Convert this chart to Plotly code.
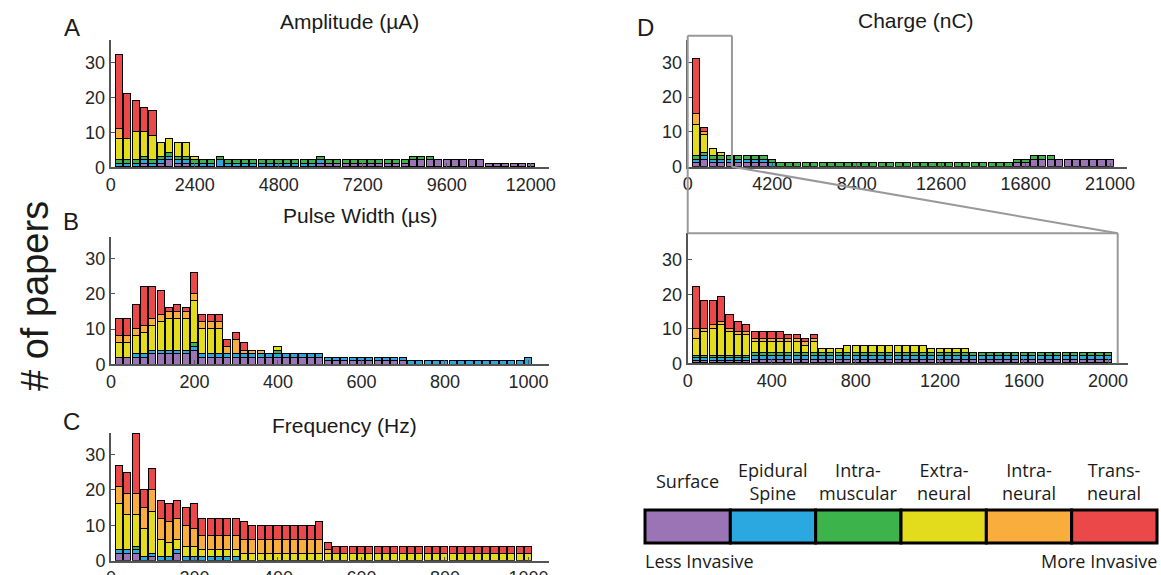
"""
Stimulation parameter histograms, stacked by electrode invasiveness.
"""
import plotly.graph_objects as go

W, H = 1161, 575

LAYERS = ["Surface", "Epidural<br>Spine", "Intra-<br>muscular", "Extra-<br>neural", "Intra-<br>neural", "Trans-<br>neural"]
COLORS = ["#9B74B5", "#2BA8E0", "#3CB44B", "#E2DC1C", "#F8AD3C", "#EA4849"]

# --- A: amplitude (uA), 240 uA bins ---
amp_bin = 240
amp_surface = [0, 0, 0, 1, 0, 1, 2, 1, 1, 0,  0, 0, 0, 0, 0, 0, 0, 0, 0, 0,  0, 0, 0, 0, 1, 1, 1, 1, 1, 1,
               1, 1, 1, 1, 1, 2, 2, 2, 2, 2,  2, 2, 2, 2, 1, 1, 1, 1, 1, 1]
amp_epidural = [1, 1, 1, 1, 1, 1, 1, 1, 1, 1,  1, 1, 2, 1, 1, 1, 1, 1, 1, 1,  1, 1, 1, 1, 1, 0, 0, 0, 0, 0,
                0, 0, 0, 0, 0, 0, 0, 0, 0, 0,  0, 0, 0, 0, 0, 0, 0, 0, 0, 0]
amp_intramusc = [1, 1, 1, 1, 1, 1, 1, 1, 1, 1,  1, 1, 1, 1, 1, 1, 1, 1, 1, 1,  1, 1, 1, 1, 1, 1, 1, 1, 1, 1,
                 1, 1, 1, 1, 1, 1, 1, 1, 0, 0,  0, 0, 0, 0, 0, 0, 0, 0, 0, 0]
amp_extra = [6, 6, 8, 7, 7, 4, 4, 4, 4, 1] + [0] * 40
amp_intra = [3] + [0] * 49
amp_trans = [21, 13, 9, 7, 7] + [0] * 45

# --- B: pulse width (us), 20 us bins ---
pw_bin = 20
pw_surface = [2, 2, 2, 2, 3, 3, 3, 3, 3, 4,  2, 2, 2, 2, 2, 2, 2, 2, 2, 2,  2, 2, 2, 2, 2, 1, 1, 1, 1, 1,
              1, 1, 1, 1, 1, 0, 0, 0, 0, 0,  0, 0, 0, 0, 0, 0, 0, 0, 0, 0]
pw_epidural = [0, 0, 1, 1, 1, 1, 1, 1, 1, 1] + [1] * 39 + [2]
pw_intramusc = [0] * 9 + [1] + [0] * 9 + [1] + [0] * 30
pw_extra = [4, 4, 5, 6, 7, 8, 9, 9, 9, 12,  7, 7, 7, 0, 0, 0, 0, 0, 0, 1] + [0] * 30
pw_intra = [2, 2, 2, 2, 2, 2, 2, 2, 2, 2,  2, 2, 2, 2, 4, 1, 1, 1, 0, 0] + [0] * 30
pw_trans = [5, 5, 7, 11, 9, 7, 1, 2, 1, 6,  2, 2, 2, 2, 2, 2, 0, 0, 0, 0] + [0] * 30

# --- C: frequency (Hz), 20 Hz bins ---
fq_bin = 20
fq_surface = [2, 2, 2, 0, 1, 0, 0, 2, 0, 0] + [0] * 40
fq_epidural = [1] * 15 + [0] * 35
fq_intramusc = [0, 0, 1] + [0] * 47
fq_extra = [13, 10, 9, 8, 12, 5, 4, 3, 3, 3] + [2] * 40
fq_intra = [5, 6, 6, 6, 6, 6, 6, 6, 6, 5,  4, 4, 4, 4, 4, 4, 4, 4, 4, 4,  4, 4, 4, 4, 4, 1, 0, 0, 0, 0] + [0] * 20
fq_trans = [6, 6, 17, 5, 6, 5, 5, 5, 5, 7,  5, 5, 5, 5, 5, 5, 4, 4, 4, 4,  4, 4, 4, 4, 5, 2, 2, 2, 2, 2] + [2] * 20

# --- D: charge (nC), full range with 420 nC bins ---
ch_bin = 420
ch_surface = [1, 2, 1, 1, 1, 1, 1, 1, 1, 0] + [0] * 28 + [1, 1] + [2] * 10
ch_epidural = [1] * 10 + [0] * 40
ch_intramusc = [1] * 43 + [0] * 7
ch_extra = [9, 5, 2, 1] + [0] * 46
ch_intra = [3, 1] + [0] * 48
ch_trans = [16, 1] + [0] * 48

# --- D (zoom): charge 0-2000 nC, 40 nC bins ---
cz_bin = 40
cz_surface = [0.7] * 7 + [1] * 43
cz_epidural = [0.7] * 7 + [1] * 43
cz_intramusc = [0.6] * 7 + [1] * 43
cz_extra = [5, 7, 8, 9, 7, 6, 6, 3, 3, 3,  3, 3, 3, 2, 3, 1, 1, 1, 2, 2,  2, 2, 2, 2, 2, 2, 2, 2, 1, 1,
            1, 1, 1, 0, 0, 0, 0, 0, 0, 0] + [0] * 10
cz_intra = [3, 1, 1, 1, 1, 1, 1, 1, 1, 1,  1, 1, 1, 1, 1] + [0] * 35
cz_trans = [12, 8, 7, 7, 4, 3, 2, 2, 2, 2,  2, 1, 1, 1, 1] + [0] * 35
ZOOM_END = 2200     # right edge of the zoom box on the full charge axis
ZOOM_AXIS_END = 2046  # right edge of the zoom panel frame

# panel geometry, in screen pixels of the reference
panels = [
    dict(title="Amplitude (µA)", letter="A", bin=amp_bin, bw=0.85,
         stacks=[amp_surface, amp_epidural, amp_intramusc, amp_extra, amp_intra, amp_trans],
         xdom=(110.7, 549), xr=12520, ydom=(40, 167.3), yr=36.4,
         xticks=[0, 2400, 4800, 7200, 9600, 12000], tpos=(349, 22), lpos=(72, 27)),
    dict(title="Pulse Width (µs)", letter="B", bin=pw_bin, bw=0.85,
         stacks=[pw_surface, pw_epidural, pw_intramusc, pw_extra, pw_intra, pw_trans],
         xdom=(111, 549.3), xr=1050, ydom=(236.7, 364.3), yr=36.25,
         xticks=[0, 200, 400, 600, 800, 1000], tpos=(360, 216), lpos=(71, 222)),
    dict(title="Frequency (Hz)", letter="C", bin=fq_bin, bw=0.85,
         stacks=[fq_surface, fq_epidural, fq_intramusc, fq_extra, fq_intra, fq_trans],
         xdom=(111, 549.3), xr=1050, ydom=(432.7, 560.7), yr=36.2,
         xticks=[0, 200, 400, 600, 800, 1000], tpos=(344, 425), lpos=(71, 421)),
    dict(title="Charge (nC)", letter="D", bin=ch_bin, bw=0.85,
         stacks=[ch_surface, ch_epidural, ch_intramusc, ch_extra, ch_intra, ch_trans],
         xdom=(687.7, 1127), xr=21840, ydom=(40, 166.7), yr=36.4,
         xticks=[0, 4200, 8400, 12600, 16800, 21000], tpos=(916, 21), lpos=(645, 27)),
    dict(title=None, letter=None, bin=cz_bin, bw=0.85,
         stacks=[cz_surface, cz_epidural, cz_intramusc, cz_extra, cz_intra, cz_trans],
         xdom=(687.7, 1128), xr=2095, ydom=(233.3, 363.3), yr=37.7,
         xticks=[0, 400, 800, 1200, 1600, 2000], tpos=None, lpos=None),
]

FONT = "Liberation Sans, Arial, sans-serif"
TICK_FONT = dict(family=FONT, size=18, color="#262626")
AXIS_COLOR = "#555555"
BOX_COLOR = "#999999"


def fx(px):
    return px / W


def fy(py):
    return 1 - py / H


def to_px(val, dom, rng):
    return dom[0] + (dom[1] - dom[0]) * val / rng


def label(text, x, y, size, **kw):
    d = dict(text=text, x=fx(x), y=fy(y), xref="paper", yref="paper", showarrow=False,
             xanchor="center", yanchor="middle", font=dict(family=FONT, size=size, color="#1a1a1a"))
    d.update(kw)
    return d


fig = go.Figure()
annotations = []
shapes = []

for i, p in enumerate(panels):
    s = "" if i == 0 else str(i + 1)
    centres = [p["bin"] * (k + 1) for k in range(len(p["stacks"][0]))]
    for vals, color in zip(p["stacks"], COLORS):
        fig.add_trace(go.Bar(
            x=centres, y=[v if v else None for v in vals], width=p["bin"] * p["bw"],
            marker=dict(color=color, line=dict(color="black", width=1)),
            xaxis="x" + s, yaxis="y" + s, showlegend=False, hoverinfo="x+y",
        ))
    common = dict(showline=True, linecolor=AXIS_COLOR, linewidth=2, ticks="inside", ticklen=4,
                  tickcolor=AXIS_COLOR, showgrid=False, zeroline=False, tickfont=TICK_FONT,
                  automargin=False)
    fig.layout["xaxis" + s] = dict(
        domain=[fx(p["xdom"][0]), fx(p["xdom"][1])], range=[0, p["xr"]], anchor="y" + s,
        tickvals=p["xticks"], tickformat="d", **common)
    fig.layout["yaxis" + s] = dict(
        domain=[fy(p["ydom"][1]), fy(p["ydom"][0])], range=[0, p["yr"]], anchor="x" + s,
        tickvals=[0, 10, 20, 30], **common)
    if p["title"]:
        annotations.append(label(p["title"], p["tpos"][0], p["tpos"][1], 21))
    if p["letter"]:
        annotations.append(label(p["letter"], p["lpos"][0], p["lpos"][1], 24))

# zoom box on the full charge panel and the connectors to the zoomed panel
top, low = panels[3], panels[4]
left_px = top["xdom"][0]
box_right = to_px(ZOOM_END, top["xdom"], top["xr"])
low_right = to_px(ZOOM_AXIS_END, low["xdom"], low["xr"])
box_top = 35.7
seg = [
    (left_px, box_top, box_right, box_top),
    (left_px, box_top, left_px, top["ydom"][1]),
    (box_right, box_top, box_right, top["ydom"][1]),
    (left_px, top["ydom"][1], left_px, low["ydom"][0]),
    (box_right, top["ydom"][1], low_right, low["ydom"][0]),
    (left_px, low["ydom"][0], low_right, low["ydom"][0]),
    (low_right, low["ydom"][0], low_right, low["ydom"][1]),
]
for x0, y0, x1, y1 in seg:
    shapes.append(dict(type="line", xref="paper", yref="paper", x0=fx(x0), y0=fy(y0), x1=fx(x1), y1=fy(y1),
                       line=dict(color=BOX_COLOR, width=2)))

# shared y label
annotations.append(label("# of papers", 35, 296, 38, textangle=-90))

# colour key for invasiveness
key_left, key_right, key_top, key_bot = 645, 1157, 510, 543
cell = (key_right - key_left) / len(LAYERS)
KEY_FONT = dict(family="Open Sans, Noto Sans, sans-serif", size=18, color="#1a1a1a")
for j, (name, color) in enumerate(zip(LAYERS, COLORS)):
    x0 = key_left + j * cell
    shapes.append(dict(type="rect", xref="paper", yref="paper", x0=fx(x0), x1=fx(x0 + cell),
                       y0=fy(key_bot), y1=fy(key_top), fillcolor=color, line=dict(color="black", width=3)))
    annotations.append(label(name, x0 + cell / 2, 481, 18, font=KEY_FONT))
annotations.append(label("Less Invasive", key_left - 2, 561, 18, xanchor="left", font=KEY_FONT))
annotations.append(label("More Invasive", key_right + 2, 561, 18, xanchor="right", font=KEY_FONT))

fig.update_layout(
    width=W, height=H, autosize=False, margin=dict(l=0, r=0, t=0, b=0),
    barmode="stack", bargap=0, plot_bgcolor="white", paper_bgcolor="white",
    annotations=annotations, shapes=shapes,
)

# pin the figure to the page origin with no scrollbars
page_css = ("document.documentElement.style.overflow = 'hidden';"
            "document.body.style.margin = '0px';"
            "document.body.style.overflow = 'hidden';")
fig.write_html("out.html", config={"displayModeBar": False}, post_script=page_css)
